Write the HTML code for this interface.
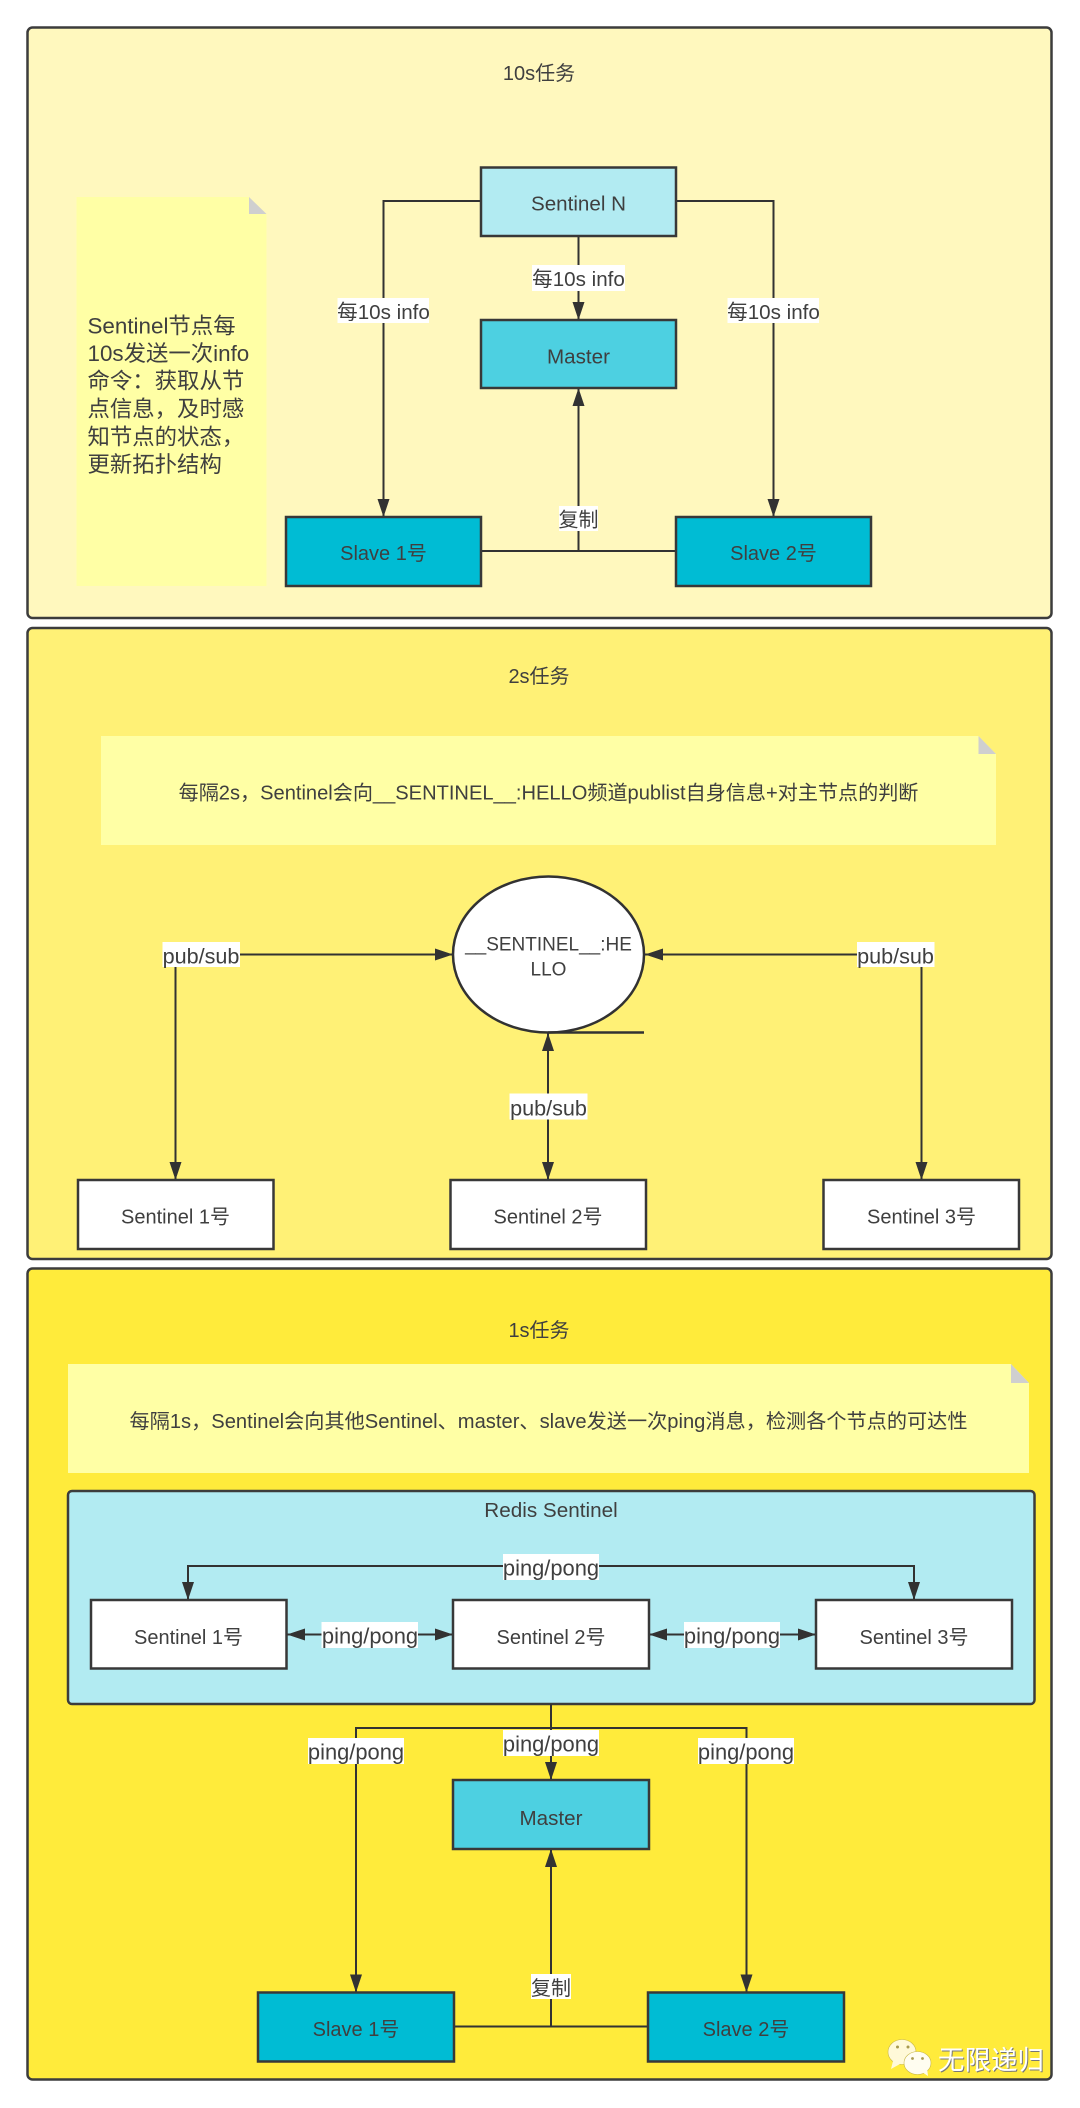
<!DOCTYPE html>
<html lang="zh"><head><meta charset="utf-8"><title>Redis Sentinel</title>
<style>
html,body{margin:0;padding:0;background:#fff}
svg{display:block}
text{font-family:"Liberation Sans","Noto Sans CJK SC",sans-serif;font-size:20px;fill:#3f3f3f;text-anchor:middle;dominant-baseline:central}
.p{stroke:#3c3c3c;stroke-width:2.5}
.b{stroke:#383838;stroke-width:2.5}
.l{stroke:#323232;stroke-width:2;fill:none}
.a{fill:#323232;stroke:none}
.w{fill:#fff}
.n{fill:#ffffa5}
.f{fill:#cfcfcf}
text.t{text-anchor:start;font-size:22.4px}
text.pp{font-size:21.9px}
text.ps{font-size:21.6px}
text.e{font-size:20.6px}
</style></head><body>
<svg xmlns="http://www.w3.org/2000/svg" width="1080" height="2108" viewBox="0 0 1080 2108">
<rect width="1080" height="2108" fill="#fff"/>

<!-- Panel 1 -->
<rect class="p" x="27.5" y="27.5" width="1024" height="590.5" rx="5" fill="#fff8be"/>
<text x="539" y="74">10s任务</text>
<path class="n" d="M76.5 197H249L266.5 214V586H76.5Z"/>
<path class="f" d="M249 197L266.5 214H249Z"/>
<text class="t" x="87.5" y="326">Sentinel节点每</text>
<text class="t" x="87.5" y="353.5">10s发送一次info</text>
<text class="t" x="87.5" y="381">命令：获取从节</text>
<text class="t" x="87.5" y="409">点信息，及时感</text>
<text class="t" x="87.5" y="437">知节点的状态，</text>
<text class="t" x="87.5" y="464.5">更新拓扑结构</text>
<path class="l" d="M481 201H383.5V517M676 201H773.5V517M578.5 236V320M578.5 388V551M481 551H676"/>
<polygon class="a" points="383.5,517 377.5,499 389.5,499"/>
<polygon class="a" points="773.5,517 767.5,499 779.5,499"/>
<polygon class="a" points="578.5,320 572.5,302 584.5,302"/>
<polygon class="a" points="578.5,388 572.5,406 584.5,406"/>
<rect class="b" x="481" y="167.5" width="195" height="68.5" fill="#b2ebf2"/>
<text class="e" x="578.5" y="204">Sentinel N</text>
<rect class="b" x="481" y="320" width="195" height="68" fill="#4dd0e1"/>
<text class="e" x="578.5" y="357">Master</text>
<rect class="b" x="286" y="517" width="195" height="69" fill="#00bcd4"/>
<text x="383.5" y="554">Slave 1号</text>
<rect class="b" x="676" y="517" width="195" height="69" fill="#00bcd4"/>
<text x="773.5" y="554">Slave 2号</text>
<rect class="w" x="337.5" y="298" width="91.5" height="25"/>
<text class="e" x="383.5" y="312.5">每10s info</text>
<rect class="w" x="727.5" y="298" width="91.5" height="25"/>
<text class="e" x="773.5" y="312.5">每10s info</text>
<rect class="w" x="532" y="265" width="93" height="26"/>
<text class="e" x="578.5" y="279.5">每10s info</text>
<rect class="w" x="559" y="506" width="39" height="25"/>
<text x="578.5" y="520.5">复制</text>

<!-- Panel 2 -->
<rect class="p" x="27.5" y="628" width="1024" height="631" rx="5" fill="#fff176"/>
<text x="539" y="677">2s任务</text>
<path class="n" d="M101 736H978.5L996 754V845H101Z"/>
<path class="f" d="M978.5 736L996 754H978.5Z"/>
<text x="548.5" y="793.5" style="font-size:20.1px">每隔2s，Sentinel会向__SENTINEL__:HELLO频道publist自身信息+对主节点的判断</text>
<path class="l" d="M240 954.5H453M175.5 967V1180M857 954.5H644M921.5 967V1180M548 1033V1180"/>
<ellipse cx="548.5" cy="954.5" rx="95.5" ry="78" fill="#fff" stroke="#323232" stroke-width="2.5"/>
<path class="l" d="M548 1032.5H644" style="stroke-width:2.5"/>
<polygon class="a" points="453,954.5 435,948.5 435,960.5"/>
<polygon class="a" points="645,954.5 663,948.5 663,960.5"/>
<polygon class="a" points="175.5,1180 169.5,1162 181.5,1162"/>
<polygon class="a" points="921.5,1180 915.5,1162 927.5,1162"/>
<polygon class="a" points="548,1180 542,1162 554,1162"/>
<polygon class="a" points="548,1033 542,1051 554,1051"/>
<text x="548.5" y="945" style="font-size:19px">__SENTINEL__:HE</text>
<text x="548.5" y="970" style="font-size:19px">LLO</text>
<rect class="w" x="162.5" y="942" width="77.5" height="25"/>
<text class="ps" x="201" y="956">pub/sub</text>
<rect class="w" x="857" y="942" width="77.5" height="25"/>
<text class="ps" x="895.5" y="956">pub/sub</text>
<rect class="w" x="509.5" y="1093.5" width="78" height="26"/>
<text class="ps" x="548.5" y="1108">pub/sub</text>
<rect class="b" x="78" y="1180" width="195.5" height="69" fill="#fff"/>
<text x="175.5" y="1217.5">Sentinel 1号</text>
<rect class="b" x="450.5" y="1180" width="195.5" height="69" fill="#fff"/>
<text x="548" y="1217.5">Sentinel 2号</text>
<rect class="b" x="823.5" y="1180" width="195.5" height="69" fill="#fff"/>
<text x="921.5" y="1217.5">Sentinel 3号</text>

<!-- Panel 3 -->
<rect class="p" x="27.5" y="1268.5" width="1024" height="811" rx="5" fill="#ffeb3b"/>
<text x="539" y="1331">1s任务</text>
<path class="n" d="M68 1364H1011L1029 1383V1473H68Z"/>
<path class="f" d="M1011 1364L1029 1383H1011Z"/>
<text x="548.5" y="1422" textLength="838" lengthAdjust="spacingAndGlyphs" style="font-size:20px">每隔1s，Sentinel会向其他Sentinel、master、slave发送一次ping消息，检测各个节点的可达性</text>
<rect class="p" x="68" y="1491" width="966.5" height="213" rx="4" fill="#b2ebf2"/>
<text x="551" y="1510.5" style="font-size:20.7px">Redis Sentinel</text>
<path class="l" d="M188 1600V1566H914V1600M286.5 1634.5H453M649 1634.5H816"/>
<polygon class="a" points="188,1600 182,1582 194,1582"/>
<polygon class="a" points="914,1600 908,1582 920,1582"/>
<polygon class="a" points="287,1634.5 305,1628.5 305,1640.5"/>
<polygon class="a" points="453,1634.5 435,1628.5 435,1640.5"/>
<polygon class="a" points="649,1634.5 667,1628.5 667,1640.5"/>
<polygon class="a" points="816,1634.5 798,1628.5 798,1640.5"/>
<rect class="b" x="91" y="1600" width="195.5" height="68.5" fill="#fff"/>
<text x="188.5" y="1638">Sentinel 1号</text>
<rect class="b" x="453" y="1600" width="196" height="68.5" fill="#fff"/>
<text x="551" y="1638">Sentinel 2号</text>
<rect class="b" x="816" y="1600" width="196" height="68.5" fill="#fff"/>
<text x="914" y="1638">Sentinel 3号</text>
<rect class="w" x="503" y="1554" width="96" height="26"/>
<text class="pp" x="551" y="1568">ping/pong</text>
<rect class="w" x="321.5" y="1622" width="96.5" height="26"/>
<text class="pp" x="370" y="1636">ping/pong</text>
<rect class="w" x="684" y="1622" width="96" height="26"/>
<text class="pp" x="732" y="1636">ping/pong</text>

<path class="l" d="M551 1704V1780M356 1992.5V1728H746.5V1992.5M551 1849V2026.5M454 2026.5H648"/>
<polygon class="a" points="551,1780 545,1762 557,1762"/>
<polygon class="a" points="356,1992.5 350,1974.5 362,1974.5"/>
<polygon class="a" points="746.5,1992.5 740.5,1974.5 752.5,1974.5"/>
<polygon class="a" points="551,1849 545,1867 557,1867"/>
<rect class="b" x="453" y="1780" width="196" height="69" fill="#4dd0e1"/>
<text class="e" x="551" y="1818.5">Master</text>
<rect class="b" x="258" y="1992.5" width="196" height="69" fill="#00bcd4"/>
<text x="356" y="2030">Slave 1号</text>
<rect class="b" x="648" y="1992.5" width="196" height="69" fill="#00bcd4"/>
<text x="746" y="2030">Slave 2号</text>
<rect class="w" x="308" y="1738" width="96" height="26"/>
<text class="pp" x="356" y="1752">ping/pong</text>
<rect class="w" x="698" y="1738" width="96" height="26"/>
<text class="pp" x="746" y="1752">ping/pong</text>
<rect class="w" x="503" y="1730" width="96" height="26"/>
<text class="pp" x="551" y="1744">ping/pong</text>
<rect class="w" x="531" y="1974" width="40" height="25"/>
<text x="551" y="1989">复制</text>

<!-- Watermark -->
<ellipse cx="902" cy="2052" rx="14" ry="12.5" fill="#fff9d8" stroke="#c9b84a" stroke-width=".6"/>
<polygon points="893,2061 891,2069 900,2064" fill="#fff9d8"/>
<ellipse cx="917.5" cy="2063" rx="13.5" ry="11.5" fill="#fffdf0" stroke="#c9b84a" stroke-width=".6"/>
<polygon points="922,2072 928,2076 927,2068" fill="#fffdf0"/>
<circle cx="897.5" cy="2047" r="1.5" fill="#a89a50"/><circle cx="908" cy="2047" r="1.5" fill="#a89a50"/>
<circle cx="912.5" cy="2058.5" r="1.4" fill="#a89a50"/><circle cx="922.5" cy="2058.5" r="1.4" fill="#a89a50"/>
<text x="991" y="2060.5" style="font-size:26.5px;fill:#777" transform="translate(1 1)">无限递归</text>
<text x="991" y="2060.5" style="font-size:26.5px;fill:#fff">无限递归</text>
</svg>
</body></html>
